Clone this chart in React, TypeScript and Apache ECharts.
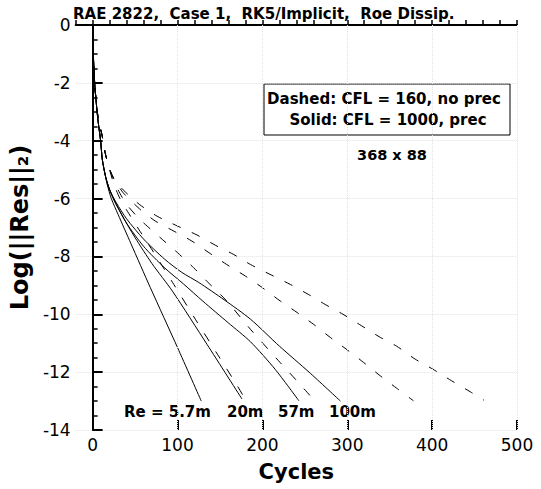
import React, { useEffect, useRef } from 'react';
import * as echarts from 'echarts';

// Tick values
const xMajorTicks = [0, 100, 200, 300, 400, 500];
const xGridValues = [100, 200, 300, 400, 500];

// Solid: CFL = 1000, prec  ([cycle, log residual])
const solidRe5_7m: [number, number][] = [
  [0, 0], [0.8, -1], [2.4, -2], [4.3, -2.7], [6.3, -3.3], [9.4, -4.0], [11.4, -4.65], [15.3, -5.25], [17, -5.5],
  [22, -6.0], [30, -6.55], [45, -7.55], [68, -9.08], [100, -11.15], [128, -13.0],
];
const solidRe20m: [number, number][] = [
  [0, 0], [0.8, -1], [2.4, -2], [4.3, -2.7], [6.3, -3.3], [9.4, -4.0], [11.4, -4.65], [15.3, -5.25], [19, -5.6],
  [25, -6.05], [35, -6.6], [50, -7.35], [70, -8.25], [94, -9.2], [135, -11.05], [176, -12.93],
];
const solidRe57m: [number, number][] = [
  [0, 0], [0.8, -1], [2.4, -2], [4.3, -2.7], [6.3, -3.3], [9.4, -4.0], [11.4, -4.65], [15.3, -5.25], [20, -5.7],
  [28, -6.2], [40, -6.85], [60, -7.65], [85, -8.4], [107, -8.95], [130, -9.55], [160, -10.3], [186, -10.95],
  [215, -11.9], [243, -12.99],
];
const solidRe100m: [number, number][] = [
  [0, 0], [0.8, -1], [2.4, -2], [4.3, -2.7], [6.3, -3.3], [9.4, -4.0], [11.4, -4.65], [15.3, -5.25], [20, -5.7],
  [28, -6.15], [40, -6.7], [60, -7.4], [85, -8.1], [105, -8.55], [125, -8.9], [155, -9.5], [186, -10.17],
  [220, -11.1], [255, -12.0], [292, -13.0],
];

// Dashed: CFL = 160, no prec
const dashedRe5_7m: [number, number][] = [
  [0, 0], [0.8, -1], [2.4, -2], [4.3, -2.7], [7, -3.3], [11, -3.8], [15, -4.45], [19, -4.9],
  [25, -5.5], [33, -6.05], [41, -6.44], [54.5, -7.07], [75, -8.0], [95.7, -8.97], [121, -10.17],
  [147, -11.38], [170, -12.45], [178, -12.85],
];
const dashedRe20m: [number, number][] = [
  [0, 0], [0.8, -1], [2.4, -2], [4.3, -2.7], [7, -3.3], [11, -3.8], [15, -4.45], [19, -4.9], [23, -5.2],
  [30, -5.7], [40, -6.2], [55, -6.7], [68, -7.05], [82, -7.41], [100, -7.87], [119, -8.39], [135, -8.87],
  [158, -9.54], [186, -10.52], [221, -11.67], [240, -12.28], [258, -12.87],
];
const dashedRe57m: [number, number][] = [
  [0, 0], [0.8, -1], [2.4, -2], [4.3, -2.7], [7, -3.3], [11, -3.8], [15, -4.45], [19, -4.9], [23, -5.2],
  [30, -5.55], [36, -5.8], [55, -6.35], [74, -6.78], [96, -7.13], [117, -7.47], [137, -7.87], [158, -8.28],
  [180, -8.68], [200, -9.08], [221, -9.54], [241, -9.94], [260, -10.34], [280, -10.8], [300, -11.23],
  [319, -11.66], [339, -12.13], [358, -12.55], [378, -12.99],
];
const dashedRe100m: [number, number][] = [
  [0, 0], [0.8, -1], [2.4, -2], [4.3, -2.7], [7, -3.3], [11, -3.8], [15, -4.45], [19, -4.9], [23, -5.2],
  [30, -5.5], [36, -5.7], [55, -6.2], [76, -6.61], [100, -6.95], [123, -7.26], [145, -7.62], [166, -7.93],
  [186, -8.28], [209, -8.62], [233, -8.97], [254, -9.31], [274, -9.66], [295, -10.0], [317, -10.4],
  [339, -10.8], [358, -11.1], [380, -11.55], [401, -11.9], [423, -12.3], [445, -12.68], [461, -12.97],
];

const reLabels = ['Re = 5.7m', '20m', '57m', '100m'];
const titleText = 'RAE 2822,  Case 1,  RK5/Implicit,  Roe Dissip.';
const legendLines = ['Dashed: CFL = 160, no prec', 'Solid: CFL = 1000, prec'];
const gridText = '368 x 88';

export default function App() {
  const ref = useRef<HTMLDivElement>(null);
  useEffect(() => {
    document.body.style.margin = '0';
    const chart = echarts.init(ref.current!, null, { renderer: 'svg' });
    const font = 'DejaVu Sans';
    const solid = [
      ['Solid 5.7m', solidRe5_7m], ['Solid 20m', solidRe20m], ['Solid 57m', solidRe57m], ['Solid 100m', solidRe100m],
    ] as [string, [number, number][]][];
    const dashed = [
      ['Dashed 5.7m', dashedRe5_7m], ['Dashed 20m', dashedRe20m], ['Dashed 57m', dashedRe57m], ['Dashed 100m', dashedRe100m],
    ] as [string, [number, number][]][];
    const series: any[] = [];
    dashed.forEach(([name, data]) => {
      series.push({
        name, type: 'line', data, showSymbol: false, symbol: 'none', silent: true, smooth: 0.25,
        lineStyle: { color: '#000', width: 1, type: [9, 12] },
      });
    });
    solid.forEach(([name, data]) => {
      series.push({
        name, type: 'line', data, showSymbol: false, symbol: 'none', silent: true, smooth: 0.25,
        lineStyle: { color: '#000', width: 1 },
      });
    });
    series[0].markLine = {
      silent: true, symbol: 'none', label: { show: false },
      lineStyle: { color: '#e2e2e2', type: 'dotted', width: 1 },
      data: xGridValues.map((v) => ({ xAxis: v })),
    };
    const reX = [124, 227, 278, 329];
    chart.setOption({
      animation: false,
      grid: { left: 73, right: 24, top: 25, bottom: 59, containLabel: false },
      xAxis: [
        {
          type: 'value', min: -20, max: 500, interval: 20, position: 'bottom',
          axisLine: { show: true, lineStyle: { color: '#000', width: 2 } },
          axisTick: { show: true, inside: true, length: 5, lineStyle: { color: '#000', width: 1.5 } },
          axisLabel: { show: false },
          splitLine: { show: false },
          name: 'Cycles', nameLocation: 'middle', nameGap: 31,
          nameTextStyle: { fontFamily: font, fontWeight: 'bold', fontSize: 21, color: '#000' },
        },
        {
          type: 'value', min: -20, max: 500, interval: 20, position: 'bottom',
          axisLine: { show: false },
          axisTick: { show: true, inside: true, length: 10, customValues: xMajorTicks, lineStyle: { color: '#000', width: 2 } },
          axisLabel: { show: true, customValues: xMajorTicks, fontFamily: font, fontSize: 17, color: '#000', margin: 6 },
          splitLine: { show: false },
        },
      ],
      yAxis: {
        type: 'value', min: -14, max: 0, interval: 2,
        axisLine: { show: true, lineStyle: { color: '#000', width: 2 } },
        axisTick: { show: true, inside: true, length: 10, lineStyle: { color: '#000', width: 2 } },
        minorTick: { show: true, splitNumber: 4, length: 5, lineStyle: { color: '#000', width: 1.5 } },
        axisLabel: { fontFamily: font, fontSize: 17, color: '#000', margin: 5 },
        splitLine: { show: true, lineStyle: { color: '#e2e2e2', type: 'dotted', width: 1 } },
        name: 'Log(||Res||₂)', nameLocation: 'middle', nameGap: 39,
        nameTextStyle: { fontFamily: font, fontWeight: 'bold', fontSize: 24, color: '#000' },
      },
      series,
      graphic: [
        {
          type: 'text', x: 73, y: 14,
          style: { text: titleText, fontFamily: font, fontWeight: 'bold', fontSize: 15, fill: '#000', textAlign: 'left', textVerticalAlign: 'middle' },
        },
        {
          type: 'rect', shape: { x: 264, y: 84, width: 246, height: 51 },
          style: { fill: '#fff', stroke: '#000', lineWidth: 1 },
        },
        {
          type: 'text', x: 384, y: 99,
          style: { text: legendLines[0], fontFamily: font, fontWeight: 'bold', fontSize: 15, fill: '#000', textAlign: 'center', textVerticalAlign: 'middle' },
        },
        {
          type: 'text', x: 388, y: 120,
          style: { text: legendLines[1], fontFamily: font, fontWeight: 'bold', fontSize: 15, fill: '#000', textAlign: 'center', textVerticalAlign: 'middle' },
        },
        {
          type: 'text', x: 392, y: 155,
          style: { text: gridText, fontFamily: font, fontWeight: 'bold', fontSize: 14.5, fill: '#000', textAlign: 'center', textVerticalAlign: 'middle' },
        },
        ...reLabels.map((t, i) => ({
          type: 'text', x: reX[i], y: 412,
          style: { text: t, fontFamily: font, fontWeight: 'bold', fontSize: 15, fill: '#000', textAlign: 'left', textVerticalAlign: 'middle' },
        })),
      ],
    });
    return () => chart.dispose();
  }, []);
  return <div ref={ref} style={{ width: 541, height: 489 }} />;
}
